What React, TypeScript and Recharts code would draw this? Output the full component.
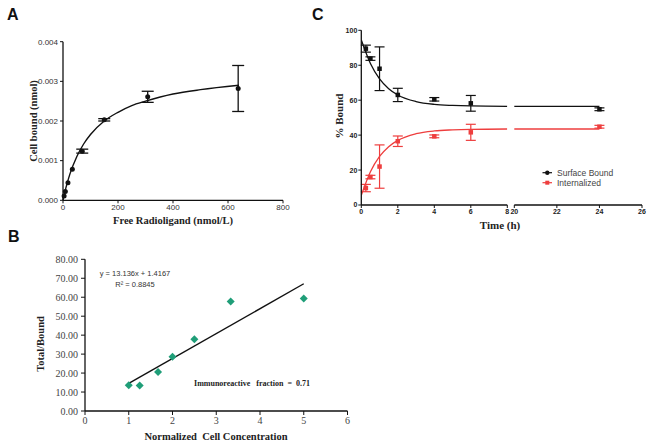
import React from "react";
import { ComposedChart, Line, Scatter, XAxis, YAxis, ErrorBar } from "recharts";

// ---- Panel A: saturation binding ----
const freeLigand = [4, 8.5, 18, 34, 70, 150, 308, 637];
const cellBound = [0.00011, 0.00022, 0.00044, 0.00078, 0.00124, 0.00203, 0.00261, 0.00282];
const cellBoundErr = [0, 0, 0, 0, 0.00005, 0.00003, 0.00014, 0.00058];
const bindFitX = [0, 10, 25, 50, 75, 100, 150, 200, 250, 300, 400, 500, 640];
const bindFitY = [0, 0.0003, 0.00066, 0.0011, 0.00142, 0.00166, 0.002, 0.00222, 0.00239, 0.0025, 0.00268, 0.00279, 0.0029];
const aTicksX = [0, 200, 400, 600, 800];
const aTicksY = [0, 0.001, 0.002, 0.003, 0.004];

// ---- Panel B: Lindmo plot ----
const cellConc = [1, 1.25, 1.67, 2, 2.5, 3.33, 5];
const totalBound = [13.6, 13.5, 20.6, 28.6, 37.9, 57.7, 59.3];
const trendX = [1, 5];
const trendY = [14.55, 67.1];
const bTicksX = [0, 1, 2, 3, 4, 5, 6];
const bTicksY = [0, 10, 20, 30, 40, 50, 60, 70, 80];

// ---- Panel C: internalization time course ----
const timeH = [0.25, 0.5, 1, 2, 4, 6, 24];
const surface = [89.5, 83.8, 78, 63, 60.5, 58.2, 54.8];
const surfaceErr = [2, 1, 12.5, 3.8, 1, 4.5, 0.8];
const internal = [9.7, 16, 22, 36.5, 39.3, 41.6, 44.8];
const internalErr = [2.1, 1, 12.4, 3, 0.8, 4.6, 0.8];
const fitTime = [0, 0.5, 1, 1.5, 2, 3, 4, 5, 6, 8];
const surfaceFit = [94.5, 81, 72.2, 66.6, 63, 59.2, 57.6, 57, 56.7, 56.5];
const internalFit = [5.5, 19, 27.8, 33.4, 37, 40.8, 42.4, 43, 43.3, 43.5];
const plateauTime = [20, 24];
const surfacePlateau = [56.5, 56.5];
const internalPlateau = [43.5, 43.5];
const cTicksLeft = [0, 2, 4, 6, 8];
const cTicksRight = [20, 22, 24, 26];
const cTicksY = [0, 20, 40, 60, 80, 100];

const RED = "#ee3e3e";
const GREEN = "#1f9e78";
const INK = "#111";

const zip = (xs: number[], ys: number[], es?: number[]) =>
  xs.map((x, i) => ({ x, y: ys[i], err: es ? es[i] : 0 }));

const aPoints = zip(freeLigand, cellBound, cellBoundErr);
const aFit = zip(bindFitX, bindFitY);
const bPoints = zip(cellConc, totalBound);
const bTrend = zip(trendX, trendY);
const surfPts = zip(timeH, surface, surfaceErr);
const intPts = zip(timeH, internal, internalErr);
const surfFitPts = zip(fitTime, surfaceFit);
const intFitPts = zip(fitTime, internalFit);
const surfPlat = zip(plateauTime, surfacePlateau);
const intPlat = zip(plateauTime, internalPlateau);

const dot = (r: number, fill: string) => (p: any) =>
  <circle cx={p.cx} cy={p.cy} r={r} fill={fill} />;
const square = (s: number, fill: string) => (p: any) =>
  <rect x={p.cx - s / 2} y={p.cy - s / 2} width={s} height={s} fill={fill} />;
const diamond = (s: number, fill: string) => (p: any) => (
  <polygon
    points={`${p.cx},${p.cy - s} ${p.cx + s},${p.cy} ${p.cx},${p.cy + s} ${p.cx - s},${p.cy}`}
    fill={fill}
  />
);

const sansTick = { fontSize: 8, fill: "#333", fontFamily: "Liberation Sans" };
const boldTick = { fontSize: 7, fill: "#222", fontFamily: "Liberation Sans", fontWeight: 700 };
const serifTick = { fontSize: 10, fill: "#444", fontFamily: "Liberation Serif" };
const axisLine = { stroke: INK, strokeWidth: 1.3 };
const tickLine = { stroke: INK, strokeWidth: 1 };

const title = { fontFamily: "Liberation Serif", fontWeight: 700, fill: "#222" };
const letter = { fontFamily: "Liberation Sans", fontWeight: 700, fontSize: 16, fill: "#111" };

export default function App() {
  return (
    <div style={{ position: "absolute", left: 0, top: 0, width: 653, height: 447, background: "#fff" }}>
      {/* A */}
      <div style={{ position: "absolute", left: 0, top: 0 }}>
        <ComposedChart width={300} height={230} margin={{ top: 41.7, right: 17, bottom: 0, left: 0 }}>
          <XAxis type="number" dataKey="x" domain={[0, 800]} ticks={aTicksX} interval={0}
            height={29.7} tickSize={3} tickMargin={1} axisLine={axisLine} tickLine={tickLine} tick={sansTick} />
          <YAxis type="number" dataKey="y" domain={[0, 0.004]} ticks={aTicksY} interval={0}
            width={63} tickSize={3} tickMargin={2} axisLine={axisLine} tickLine={tickLine} tick={sansTick}
            tickFormatter={(v: number) => v.toFixed(3)} />
          <Line data={aFit} dataKey="y" type="monotone" stroke={INK} strokeWidth={1.4} dot={false}
            activeDot={false} isAnimationActive={false} />
          <Scatter data={aPoints} dataKey="y" shape={dot(2.5, INK)} isAnimationActive={false}>
            <ErrorBar dataKey="err" direction="y" width={6} stroke={INK} strokeWidth={1.3} />
          </Scatter>
        </ComposedChart>
      </div>

      {/* B */}
      <div style={{ position: "absolute", left: 0, top: 230 }}>
        <ComposedChart width={360} height={200} margin={{ top: 29.3, right: 12.5, bottom: 0, left: 0 }}>
          <XAxis type="number" dataKey="x" domain={[0, 6]} ticks={bTicksX} interval={0}
            height={19} tickSize={4} tickMargin={2} axisLine={axisLine} tickLine={tickLine} tick={serifTick} />
          <YAxis type="number" dataKey="y" domain={[0, 80]} ticks={bTicksY} interval={0}
            width={85} tickSize={4} tickMargin={3} axisLine={axisLine} tickLine={tickLine} tick={serifTick}
            tickFormatter={(v: number) => v.toFixed(2)} />
          <Line data={bTrend} dataKey="y" type="linear" stroke={INK} strokeWidth={1.4} dot={false}
            activeDot={false} isAnimationActive={false} />
          <Scatter data={bPoints} dataKey="y" shape={diamond(4, GREEN)} isAnimationActive={false} />
        </ComposedChart>
      </div>

      {/* C, left segment 0-8 h */}
      <div style={{ position: "absolute", left: 320, top: 0 }}>
        <ComposedChart width={194} height={230} margin={{ top: 30.3, right: 6.7, bottom: 0, left: 0 }}>
          <XAxis type="number" dataKey="x" domain={[0, 8]} ticks={cTicksLeft} interval={0} allowDataOverflow
            height={25} tickSize={3} tickMargin={1} axisLine={axisLine} tickLine={tickLine} tick={boldTick} />
          <YAxis type="number" dataKey="y" domain={[0, 100]} ticks={cTicksY} interval={0}
            width={41.3} tickSize={3} tickMargin={1} axisLine={axisLine} tickLine={tickLine} tick={boldTick} />
          <Line data={surfFitPts} dataKey="y" type="monotone" stroke={INK} strokeWidth={1.3} dot={false}
            activeDot={false} isAnimationActive={false} />
          <Line data={intFitPts} dataKey="y" type="monotone" stroke={RED} strokeWidth={1.3} dot={false}
            activeDot={false} isAnimationActive={false} />
          <Scatter data={surfPts.filter((d) => d.x <= 8)} dataKey="y" shape={square(4.5, INK)} isAnimationActive={false}>
            <ErrorBar dataKey="err" direction="y" width={5} stroke={INK} strokeWidth={1.2} />
          </Scatter>
          <Scatter data={intPts.filter((d) => d.x <= 8)} dataKey="y" shape={square(4.5, RED)} isAnimationActive={false}>
            <ErrorBar dataKey="err" direction="y" width={5} stroke={RED} strokeWidth={1.2} />
          </Scatter>
        </ComposedChart>
      </div>

      {/* C, right segment 20-26 h */}
      <div style={{ position: "absolute", left: 500, top: 0 }}>
        <ComposedChart width={153} height={230} margin={{ top: 30.3, right: 11, bottom: 0, left: 14.3 }}>
          <XAxis type="number" dataKey="x" domain={[20, 26]} ticks={cTicksRight} interval={0}
            height={25} tickSize={3} tickMargin={1} axisLine={axisLine} tickLine={tickLine} tick={boldTick} />
          <YAxis type="number" dataKey="y" domain={[0, 100]} hide />
          <Line data={surfPlat} dataKey="y" type="linear" stroke={INK} strokeWidth={1.3} dot={false}
            activeDot={false} isAnimationActive={false} />
          <Line data={intPlat} dataKey="y" type="linear" stroke={RED} strokeWidth={1.3} dot={false}
            activeDot={false} isAnimationActive={false} />
          <Scatter data={surfPts.filter((d) => d.x >= 20)} dataKey="y" shape={square(4.5, INK)} isAnimationActive={false}>
            <ErrorBar dataKey="err" direction="y" width={5} stroke={INK} strokeWidth={1.2} />
          </Scatter>
          <Scatter data={intPts.filter((d) => d.x >= 20)} dataKey="y" shape={square(4.5, RED)} isAnimationActive={false}>
            <ErrorBar dataKey="err" direction="y" width={5} stroke={RED} strokeWidth={1.2} />
          </Scatter>
        </ComposedChart>
      </div>

      {/* titles, panel letters, annotations, legend */}
      <svg width={653} height={447} style={{ position: "absolute", left: 0, top: 0, pointerEvents: "none" }}>
        <text x={7} y={20} style={letter}>A</text>
        <text x={8} y={242} style={letter}>B</text>
        <text x={312} y={20} style={letter}>C</text>

        <text x={173} y={223.5} textAnchor="middle" fontSize={10.5} style={title}>Free Radioligand (nmol/L)</text>
        <text transform="translate(36.5,121) rotate(-90)" textAnchor="middle" fontSize={10.5} style={title}>Cell bound (nmol)</text>

        <text x={216} y={440} textAnchor="middle" fontSize={10.5} style={{ ...title, whiteSpace: "pre" }}>Normalized  Cell Concentration</text>
        <text transform="translate(44,344) rotate(-90)" textAnchor="middle" fontSize={10.5} style={title}>Total/Bound</text>
        <text x={135} y={276} textAnchor="middle" fontSize={7.5} fill="#333" fontFamily="Liberation Sans">y = 13.136x + 1.4167</text>
        <text x={135} y={287} textAnchor="middle" fontSize={7.5} fill="#333" fontFamily="Liberation Sans">R² = 0.8845</text>
        <text x={252} y={386} textAnchor="middle" fontSize={8} style={{ ...title, whiteSpace: "pre" }}>Immunoreactive   fraction  =  0.71</text>

        <text x={500} y={229} textAnchor="middle" fontSize={11} style={title}>Time (h)</text>
        <text transform="translate(342.5,116) rotate(-90)" textAnchor="middle" fontSize={11} style={title}>% Bound</text>

        <line x1={542.5} x2={552} y1={172.7} y2={172.7} stroke={INK} strokeWidth={1.2} />
        <circle cx={547.3} cy={172.7} r={2.2} fill={INK} />
        <text x={557} y={175.6} fontSize={8.5} fill="#444" fontFamily="Liberation Sans">Surface Bound</text>
        <line x1={542.5} x2={552} y1={182.7} y2={182.7} stroke={RED} strokeWidth={1.2} />
        <rect x={545.3} y={180.7} width={4} height={4} fill={RED} />
        <text x={557} y={185.6} fontSize={8.5} fill="#444" fontFamily="Liberation Sans">Internalized</text>
      </svg>
    </div>
  );
}
